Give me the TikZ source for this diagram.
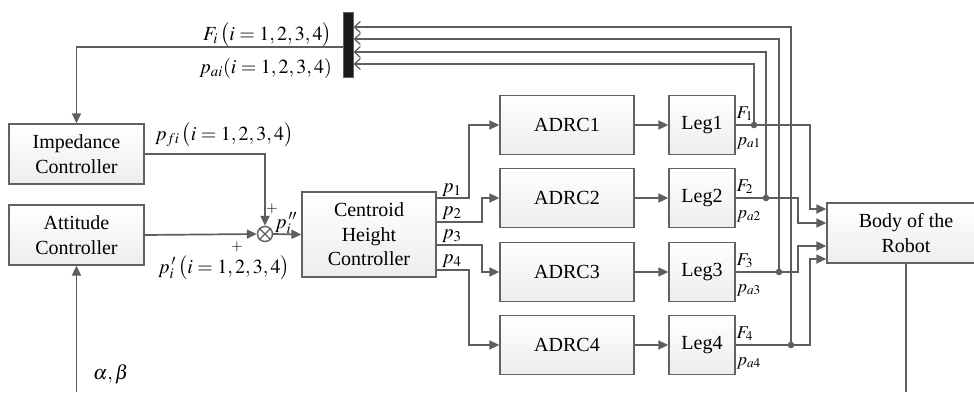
\documentclass[tikz,border=0pt]{standalone}
\usepackage{mathptmx}
\usepackage{fontspec}
\setmainfont{Liberation Serif}
\usetikzlibrary{arrows.meta,shapes.geometric,shadings}
\definecolor{ln}{HTML}{5E5E5E}
\definecolor{bd}{HTML}{626262}
\begin{document}
\begin{tikzpicture}[x=1pt,y=-1pt,
  every node/.style={font=\fontsize{20}{24.5}\selectfont, inner sep=0pt},
  blk/.style={draw=bd, line width=1.3pt, top color=white, bottom color=black!7, align=center},
  wire/.style={draw=ln, line width=1.7pt},
  arr/.style={wire, -{Triangle[length=10pt,width=9pt]}},
  fb/.style={wire, -{Straight Barb[length=6pt,width=11pt,line width=1.2pt]}},
  small/.style={font=\fontsize{18}{20}\selectfont}]
\useasboundingbox (0,0) rectangle (974,392);
% blocks
\node[blk, minimum width=135, minimum height=60] (imp) at (76.5,154) {Impedance\\Controller};
\node[blk, minimum width=135, minimum height=60] (att) at (76.5,235) {Attitude\\Controller};
\node[blk, minimum width=134, minimum height=85] (chc) at (369,234.5) {Centroid\\Height\\Controller};
\node[blk, minimum width=134, minimum height=59] (adrc1) at (567,125) {ADRC1};
\node[blk, minimum width=134, minimum height=59] (adrc2) at (567,198) {ADRC2};
\node[blk, minimum width=134, minimum height=59] (adrc3) at (567,272) {ADRC3};
\node[blk, minimum width=134, minimum height=59] (adrc4) at (567,345) {ADRC4};
\node[blk, minimum width=66, minimum height=59] (leg1) at (702,125) {Leg1};
\node[blk, minimum width=66, minimum height=59] (leg2) at (702,198) {Leg2};
\node[blk, minimum width=66, minimum height=59] (leg3) at (702,272) {Leg3};
\node[blk, minimum width=66, minimum height=59] (leg4) at (702,345) {Leg4};
\node[blk, minimum width=158, minimum height=60] (body) at (906,233) {Body of the\\Robot};
\node[draw=bd, line width=1pt, fill=black!90, minimum width=10, minimum height=65] (bar) at (348,44.5) {};
\node[draw=ln, line width=1.4pt, fill=white, circle, minimum size=15] (sum) at (265,234) {};
\draw[ln, line width=1.3pt] (sum.north west) -- (sum.south east) (sum.north east) -- (sum.south west);
% junction points
\coordinate (d1) at (754,125);
\coordinate (d2) at (766,198);
\coordinate (d3) at (779,272);
\coordinate (d4) at (791,345);
% left part
\draw[arr] (bar.west |- 0,47) -| (imp.north);
\draw[arr] (imp.east) -| (sum.north);
\draw[arr] (att.east) -- (sum.west);
\draw[arr] (sum.east) -- (chc.west);
\draw[arr] (chc.east |- 0,198) -- (469,198) |- (adrc1.west);
\draw[arr] (chc.east |- 0,222) -- (482,222) |- (adrc2.west);
\draw[arr] (chc.east |- 0,245) -- (482,245) |- (adrc3.west);
\draw[arr] (chc.east |- 0,270) -- (469,270) |- (adrc4.west);
\foreach \k in {1,2,3,4} {
  \draw[arr] (adrc\k.east) -- (leg\k.west);
}
% legs to body
\draw[arr] (leg1.east) -- (d1) -| (810,209) -- (body.west |- 0,209);
\draw[arr] (leg2.east) -- (d2) -| (798,223) -- (body.west |- 0,223);
\draw[arr] (leg3.east) -- (d3) -| (798,246) -- (body.west |- 0,246);
\draw[arr] (leg4.east) -- (d4) -| (810,259) -- (body.west |- 0,259);
% feedback to bar
\draw[fb] (d1) -- (754,64) -- (bar.east |- 0,64);
\draw[fb] (d2) -- (766,52) -- (bar.east |- 0,52);
\draw[fb] (d3) -- (779,39) -- (bar.east |- 0,39);
\draw[fb] (d4) -- (791,27) -- (bar.east |- 0,27);
\foreach \k in {1,2,3,4} { \fill[ln] (d\k) circle (3.3pt); }
% outer loop
\coordinate (bout) at (906,392);
\coordinate (ain) at (76.5,392);
\draw[wire] (body.south) -- (bout);
\draw[arr] (ain) -- (att.south);
% labels
\node[anchor=base east] (lF) at (332,40) {$F_i\,\big(i=1,2,3,4\big)$};
\node[anchor=base east] (lpa) at (332,73) {$p_{ai}(i=1,2,3,4)$};
\node[anchor=base west] (lpf) at (155,140) {$p_{fi}\,\big(i=1,2,3,4\big)$};
\node[anchor=base west] (lpp) at (158,273) {$p_i^{\,\prime}\,\big(i=1,2,3,4\big)$};
\node[anchor=base west] (lppp) at (275,228) {$p_i^{\,\prime\prime}$};
\node[font=\fontsize{15}{15}\selectfont] (pl1) at (272,209) {$+$};
\node[font=\fontsize{15}{15}\selectfont] (pl2) at (237,247) {$+$};
\node[anchor=base west] (lab) at (93,379) {$\alpha,\beta$};
\node[anchor=base west] (lp1) at (442,192) {$p_1$};
\node[anchor=base west] (lp2) at (442,215.5) {$p_2$};
\node[anchor=base west] (lp3) at (442,238.5) {$p_3$};
\node[anchor=base west] (lp4) at (442,263.5) {$p_4$};
\foreach \k/\c in {1/125,2/198,3/272,4/345} {
  \node[small, anchor=base west] (lF\k) at (736.5,\c-7) {$F_{\k}$};
  \node[small, anchor=base west] (lpa\k) at (736.5,\c+20) {$p_{a\k}$};
}
\end{tikzpicture}
\end{document}
